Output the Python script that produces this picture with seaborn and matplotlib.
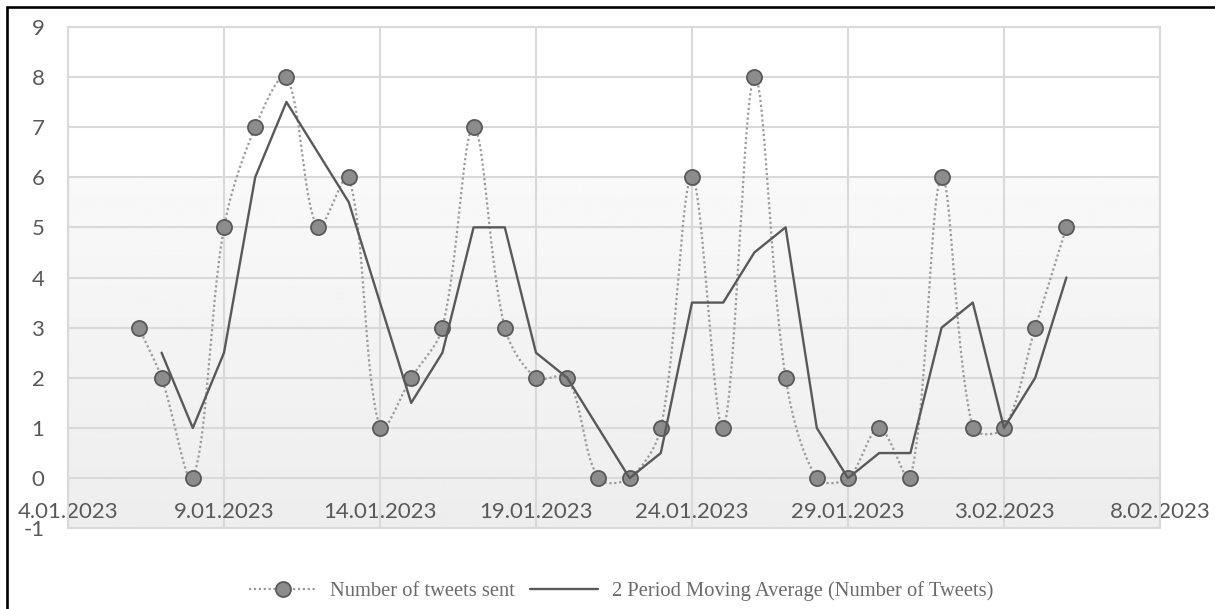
import numpy as np
import pandas as pd
import matplotlib
matplotlib.use("Agg")
import matplotlib.pyplot as plt
import matplotlib.dates as mdates
from matplotlib.lines import Line2D
from matplotlib.patches import Rectangle
import seaborn as sns

# ---- data -------------------------------------------------------------
first_date = ["2023-01-06 06:30"]
daily_dates = list(pd.date_range("2023-01-07", "2023-02-05", freq="D").strftime("%Y-%m-%d %H:%M"))
dates = pd.to_datetime(first_date + daily_dates, format="%Y-%m-%d %H:%M")

tweets = [3, 2, 0, 5, 7, 8, 5, 6, 1, 2, 3, 7, 3, 2, 2, 0, 0, 1, 6, 1, 8,
          2, 0, 0, 1, 0, 6, 1, 1, 3, 5]
moving_avg = [np.nan, 2.5, 1, 2.5, 6, 7.5, 6.5, 5.5, 3.5, 1.5, 2.5, 5, 5,
              2.5, 2, 1, 0, 0.5, 3.5, 3.5, 4.5, 5, 1, 0, 0.5, 0.5, 3, 3.5,
              1, 2, 4]

y_ticks = list(range(-1, 10))
x_tick_dates = pd.to_datetime(["2023-01-04", "2023-01-09", "2023-01-14",
                               "2023-01-19", "2023-01-24", "2023-01-29",
                               "2023-02-03", "2023-02-08"])

series_label = "Number of tweets sent"
avg_label = "2 Period Moving Average (Number of Tweets)"

# ---- style ------------------------------------------------------------
sns.set_theme(style="white")
plt.rcParams["font.family"] = ["Lato", "DejaVu Sans"]

TEXT = "#595959"
LEGEND_TEXT = "#6a6a6a"
GRID = "#d9d9d9"
DOT_LINE = "#9a9a9a"
MARK_FACE = "#8c8c8c"
MARK_EDGE = "#595959"
AVG_LINE = "#595959"

W, H = 1215, 609
fig = plt.figure(figsize=(W / 100, H / 100), dpi=100)
fig.patch.set_facecolor("white")

left, right, top, bottom = 68, 1160, 26.7, 528.3
ax = fig.add_axes([left / W, 1 - bottom / H, (right - left) / W, (bottom - top) / H])

# plot-area fill: white on top, soft grey ramp in the lower part
ramp_start = 6  # value where the grey ramp begins
rows = 400
yy = np.linspace(9, -1, rows)
shade = np.where(yy >= ramp_start, 1.0,
                 0.975 - (ramp_start - yy) / (ramp_start + 1) * 0.045)
img = np.repeat(shade[:, None], 2, axis=1)
ax.imshow(img, extent=[0, 1, 0, 1], transform=ax.transAxes, aspect="auto",
          cmap="gray", vmin=0, vmax=1, zorder=0, interpolation="bilinear")

ax.set_xlim(mdates.date2num(x_tick_dates[0]), mdates.date2num(x_tick_dates[-1]))
ax.set_ylim(-1, 9)


# smoothed connector through the daily counts: cubic Bezier segments whose
# tangent handles are scaled by the relative on-screen chord lengths
def smooth_curve(x, y, sx, sy, n=40):
    pts = np.column_stack([np.asarray(x, float) * sx, np.asarray(y, float) * sy])
    m = len(pts)
    chord = np.linalg.norm(np.diff(pts, axis=0), axis=1)
    out = []
    t = np.linspace(0, 1, n)[:, None]
    for i in range(m - 1):
        p1, p2 = pts[i], pts[i + 1]
        d1 = chord[i]
        if i > 0:
            d0 = chord[i - 1]
            c1 = p1 + (p2 - pts[i - 1]) * d1 / (d0 + d1) / 3
        else:
            c1 = p1 + (p2 - p1) / 3
        if i + 2 < m:
            d2 = chord[i + 1]
            c2 = p2 - (pts[i + 2] - p1) * d1 / (d1 + d2) / 3
        else:
            c2 = p2 - (p2 - p1) / 3
        seg = ((1 - t) ** 3) * p1 + 3 * ((1 - t) ** 2) * t * c1 \
            + 3 * (1 - t) * t ** 2 * c2 + t ** 3 * p2
        out.append(seg if i == 0 else seg[1:])
    res = np.vstack(out)
    return res[:, 0] / sx, res[:, 1] / sy


# pixels per day / per unit, so the smoothing behaves as on screen
px_per_day = (right - left) / 35.0
px_per_unit = (bottom - top) / 10.0
xnum = mdates.date2num(dates)
cx, cy = smooth_curve(xnum, tweets, px_per_day, px_per_unit)
ax.plot(cx, cy, color=DOT_LINE, lw=1.6, ls=(0, (1, 1.2)), zorder=3)

df = pd.DataFrame({"date": dates, "tweets": tweets, "avg": moving_avg})
sns.scatterplot(data=df, x="date", y="tweets", ax=ax, s=118,
                color=MARK_FACE, edgecolor=MARK_EDGE, linewidth=1.3,
                zorder=4, legend=False)
sns.lineplot(data=df.dropna(), x="date", y="avg", ax=ax, color=AVG_LINE,
             lw=1.7, zorder=5, legend=False)

# ---- axes -------------------------------------------------------------
ax.set_xlim(mdates.date2num(x_tick_dates[0]), mdates.date2num(x_tick_dates[-1]))
ax.set_ylim(-1, 9)
ax.set_xticks(mdates.date2num(x_tick_dates))
ax.set_xticklabels([f"{d.day}.{d.month:02d}.{d.year}" for d in x_tick_dates])
ax.set_yticks(y_ticks)
ax.set_yticklabels([str(v) for v in y_ticks])
ax.set_xlabel("")
ax.set_ylabel("")

ax.grid(True, color=GRID, lw=1.5, zorder=1)
ax.set_axisbelow(True)
for side in ["left", "right", "top"]:
    ax.spines[side].set_color(GRID)
    ax.spines[side].set_linewidth(1.5)
ax.spines["bottom"].set_position(("data", 0))
ax.spines["bottom"].set_color(GRID)
ax.spines["bottom"].set_linewidth(1.5)
ax.axhline(-1, color=GRID, lw=1.5, clip_on=False, zorder=1)

ax.tick_params(axis="x", length=0, pad=17.5, labelsize=16, labelcolor=TEXT)
ax.tick_params(axis="y", length=0, pad=17, labelsize=16, labelcolor=TEXT)

# ---- legend -----------------------------------------------------------
handles = [
    Line2D([], [], color=DOT_LINE, lw=1.6, ls=(0, (1, 1.2)), marker="o",
           ms=10.8, mfc=MARK_FACE, mec=MARK_EDGE, mew=1.3),
    Line2D([], [], color=AVG_LINE, lw=1.7),
]
fig.legend(handles, [series_label, avg_label], loc="center",
           bbox_to_anchor=(621 / W, 1 - 591 / H), ncol=2, frameon=False,
           handlelength=3.3, handletextpad=0.65, columnspacing=0.75,
           prop={"family": ["Liberation Serif"], "size": 14.8},
           labelcolor=LEGEND_TEXT)

# outer frame along the top and left of the image
fig.add_artist(Rectangle((6.7 / W, -0.2), 1.5, 1.2 - 7 / H,
                         transform=fig.transFigure, fill=False,
                         ec="black", lw=1.9))

fig.savefig("out.png", dpi=100)
